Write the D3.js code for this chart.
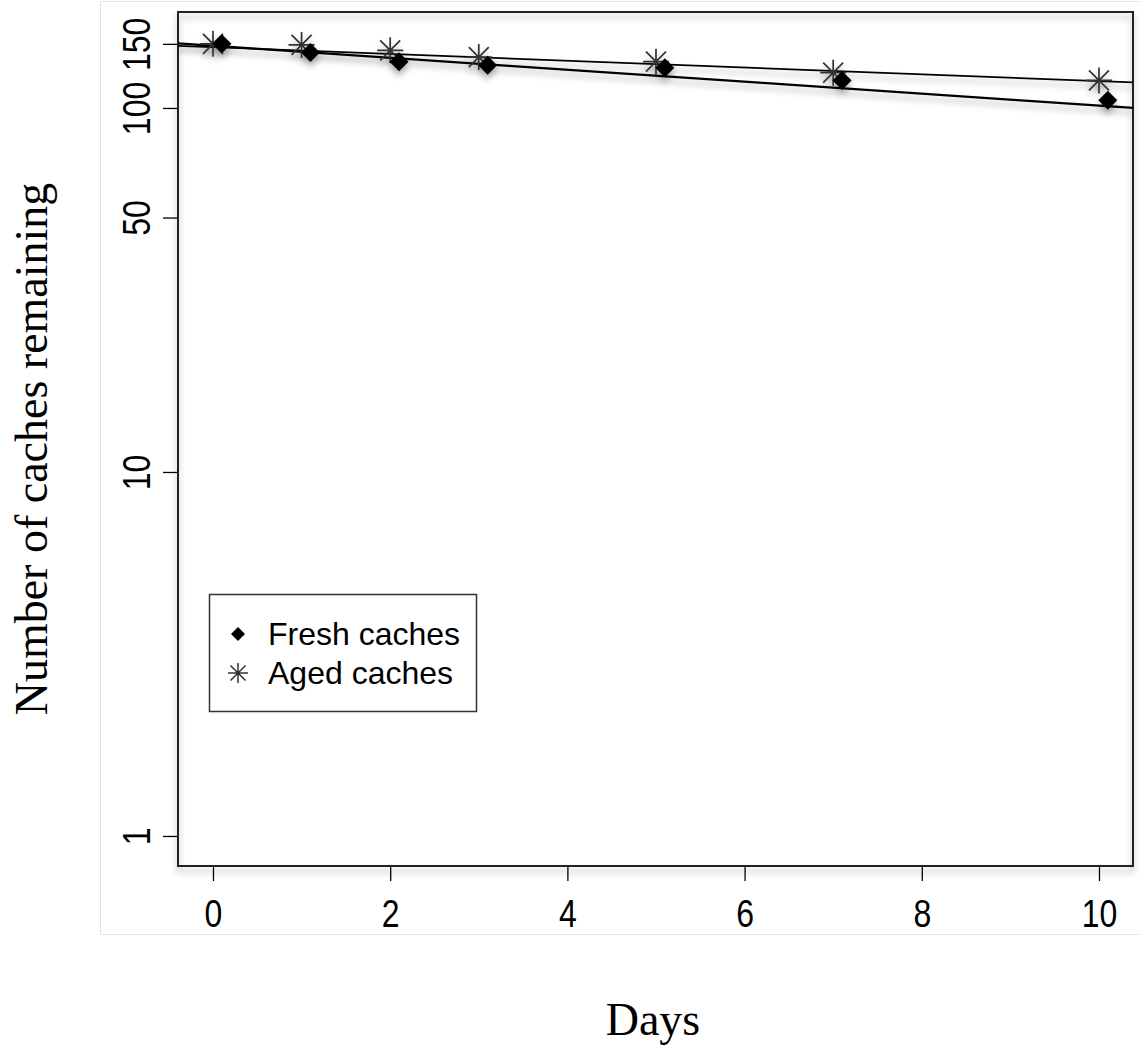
<!DOCTYPE html>
<html>
<head>
<meta charset="utf-8">
<script src="https://cdn.jsdelivr.net/npm/d3@7"></script>
<style>
  html, body { margin: 0; padding: 0; background: #fff; }
  svg { display: block; }
  .tick text { font-family: "Liberation Sans", Arial, sans-serif; font-size: 32px; fill: #000; }
  .title { font-family: "Liberation Serif", "Times New Roman", serif; font-size: 46px; fill: #000; }
  .legend text { font-family: "Liberation Sans", Arial, sans-serif; font-size: 32px; fill: #000; }
</style>
</head>
<body>
<script>
// Days on which caches were checked
const days = [0, 1, 2, 3, 5, 7, 10];
// Caches remaining per treatment
const freshCaches = [150, 142, 134, 131, 129, 119, 105];
const agedCaches = [150, 149, 144, 138, 134, 125, 119];
// Horizontal offset so fresh markers sit beside aged ones
const freshOffset = 0.1;
// Fitted exponential decay: N(day) = n0 * 10^(-rate * day)
const fitNames = ["Fresh caches", "Aged caches"];
const fitN0 = [148.2, 146.9];
const fitRate = [0.01645, 0.00934];
// Axis ticks
const xTicks = [0, 2, 4, 6, 8, 10];
const yTicks = [1, 10, 50, 100, 150];
const yTickLabels = ["1", "10", "50", "100", "150"];

const W = 1139, H = 1051;
const plot = { left: 178, right: 1133, top: 12, bottom: 866 };
// Tick labels are drawn slightly condensed (taller than wide)
const labelStretch = 1.22;

const svg = d3.select("body").append("svg").attr("width", W).attr("height", H);

const defs = svg.append("defs");
const shadow = defs.append("filter").attr("id", "shadow")
  .attr("x", "-10%").attr("y", "-50%").attr("width", "120%").attr("height", "300%");
shadow.append("feDropShadow").attr("dx", 0).attr("dy", 5).attr("stdDeviation", 3)
  .attr("flood-color", "#000").attr("flood-opacity", 0.3);
defs.append("clipPath").attr("id", "plotclip").append("rect")
  .attr("x", plot.left).attr("y", plot.top)
  .attr("width", plot.right - plot.left).attr("height", plot.bottom - plot.top);

// Light frame around the plotting figure
svg.append("path")
  .attr("d", `M${W},1.5 H100.5 V934.5 H${W}`)
  .attr("fill", "none").attr("stroke", "#e2e2e2").attr("stroke-width", 1);

const x = d3.scaleLinear().domain([-0.395, 10.384]).range([plot.left, plot.right]);
const y = d3.scaleLog().domain([0.827, 183.5]).range([plot.bottom, plot.top]);

// Axes
const xAxis = svg.append("g").attr("transform", `translate(0,${plot.bottom})`)
  .call(d3.axisBottom(x).tickValues(xTicks).tickSize(15).tickFormat(d3.format("d")));
xAxis.select(".domain").remove();
xAxis.selectAll(".tick line").attr("stroke", "#000").attr("stroke-width", 1.3);
xAxis.selectAll(".tick text")
  .attr("y", 0).attr("dy", 0)
  .attr("transform", `translate(0,61) scale(1,${labelStretch})`);

const yAxis = svg.append("g").attr("transform", `translate(${plot.left},0)`)
  .call(d3.axisLeft(y).tickValues(yTicks).tickSize(15).tickFormat((d, i) => yTickLabels[i]));
yAxis.select(".domain").remove();
yAxis.selectAll(".tick line").attr("stroke", "#000").attr("stroke-width", 1.3);
yAxis.selectAll(".tick text")
  .attr("transform", `rotate(-90) translate(0,-28) scale(1,${labelStretch})`)
  .attr("x", 0).attr("y", 0).attr("dy", 0)
  .attr("text-anchor", "middle");

// Plot box
svg.append("rect")
  .attr("x", plot.left).attr("y", plot.top)
  .attr("width", plot.right - plot.left).attr("height", plot.bottom - plot.top)
  .attr("fill", "none").attr("stroke", "#222").attr("stroke-width", 2)
  .attr("filter", "url(#shadow)");

// Fitted decay lines
const marks = svg.append("g").attr("clip-path", "url(#plotclip)");
const lineGroup = marks.append("g").attr("filter", "url(#shadow)");
const dayRange = x.domain();
fitN0.forEach((n0, i) => {
  const pts = dayRange.map(d => [d, n0 * Math.pow(10, -fitRate[i] * d)]);
  lineGroup.append("path")
    .datum(pts)
    .attr("d", d3.line().x(d => x(d[0])).y(d => y(d[1])))
    .attr("fill", "none").attr("stroke", "#000").attr("stroke-width", i === 0 ? 2.2 : 1.8);
});

// Marker shapes
const starPath = (r, rd) =>
  `M0,${-r}V${r}M${-r},0H${r}M${-rd},${-rd}L${rd},${rd}M${-rd},${rd}L${rd},${-rd}`;
const diamondPath = s => `M0,${-s}L${s},0L0,${s}L${-s},0Z`;

const pointGroup = marks.append("g").attr("filter", "url(#shadow)");
pointGroup.selectAll(".aged").data(days).enter().append("path")
  .attr("class", "aged")
  .attr("transform", (d, i) => `translate(${x(d)},${y(agedCaches[i])})`)
  .attr("d", starPath(13, 10))
  .attr("fill", "none").attr("stroke", "#333").attr("stroke-width", 1.7);
pointGroup.selectAll(".fresh").data(days).enter().append("path")
  .attr("class", "fresh")
  .attr("transform", (d, i) => `translate(${x(d + freshOffset)},${y(freshCaches[i])})`)
  .attr("d", diamondPath(9.5))
  .attr("fill", "#000");

// Legend
const legend = svg.append("g").attr("class", "legend");
legend.append("rect")
  .attr("x", 209.5).attr("y", 594.5).attr("width", 267).attr("height", 117)
  .attr("fill", "#fff").attr("stroke", "#333").attr("stroke-width", 1.5);
legend.append("path").attr("transform", "translate(238,634)")
  .attr("d", diamondPath(7)).attr("fill", "#000");
legend.append("path").attr("transform", "translate(238,673)")
  .attr("d", starPath(10, 7.5)).attr("fill", "none").attr("stroke", "#333").attr("stroke-width", 1.5);
legend.append("text").attr("x", 268).attr("y", 645).text(fitNames[0]);
legend.append("text").attr("x", 268).attr("y", 684).text(fitNames[1]);

// Axis titles
svg.append("text").attr("class", "title")
  .attr("x", 653).attr("y", 1035).attr("text-anchor", "middle").text("Days");
svg.append("text").attr("class", "title")
  .attr("transform", "translate(47,449) rotate(-90)")
  .attr("text-anchor", "middle").text("Number of caches remaining");
</script>
</body>
</html>
